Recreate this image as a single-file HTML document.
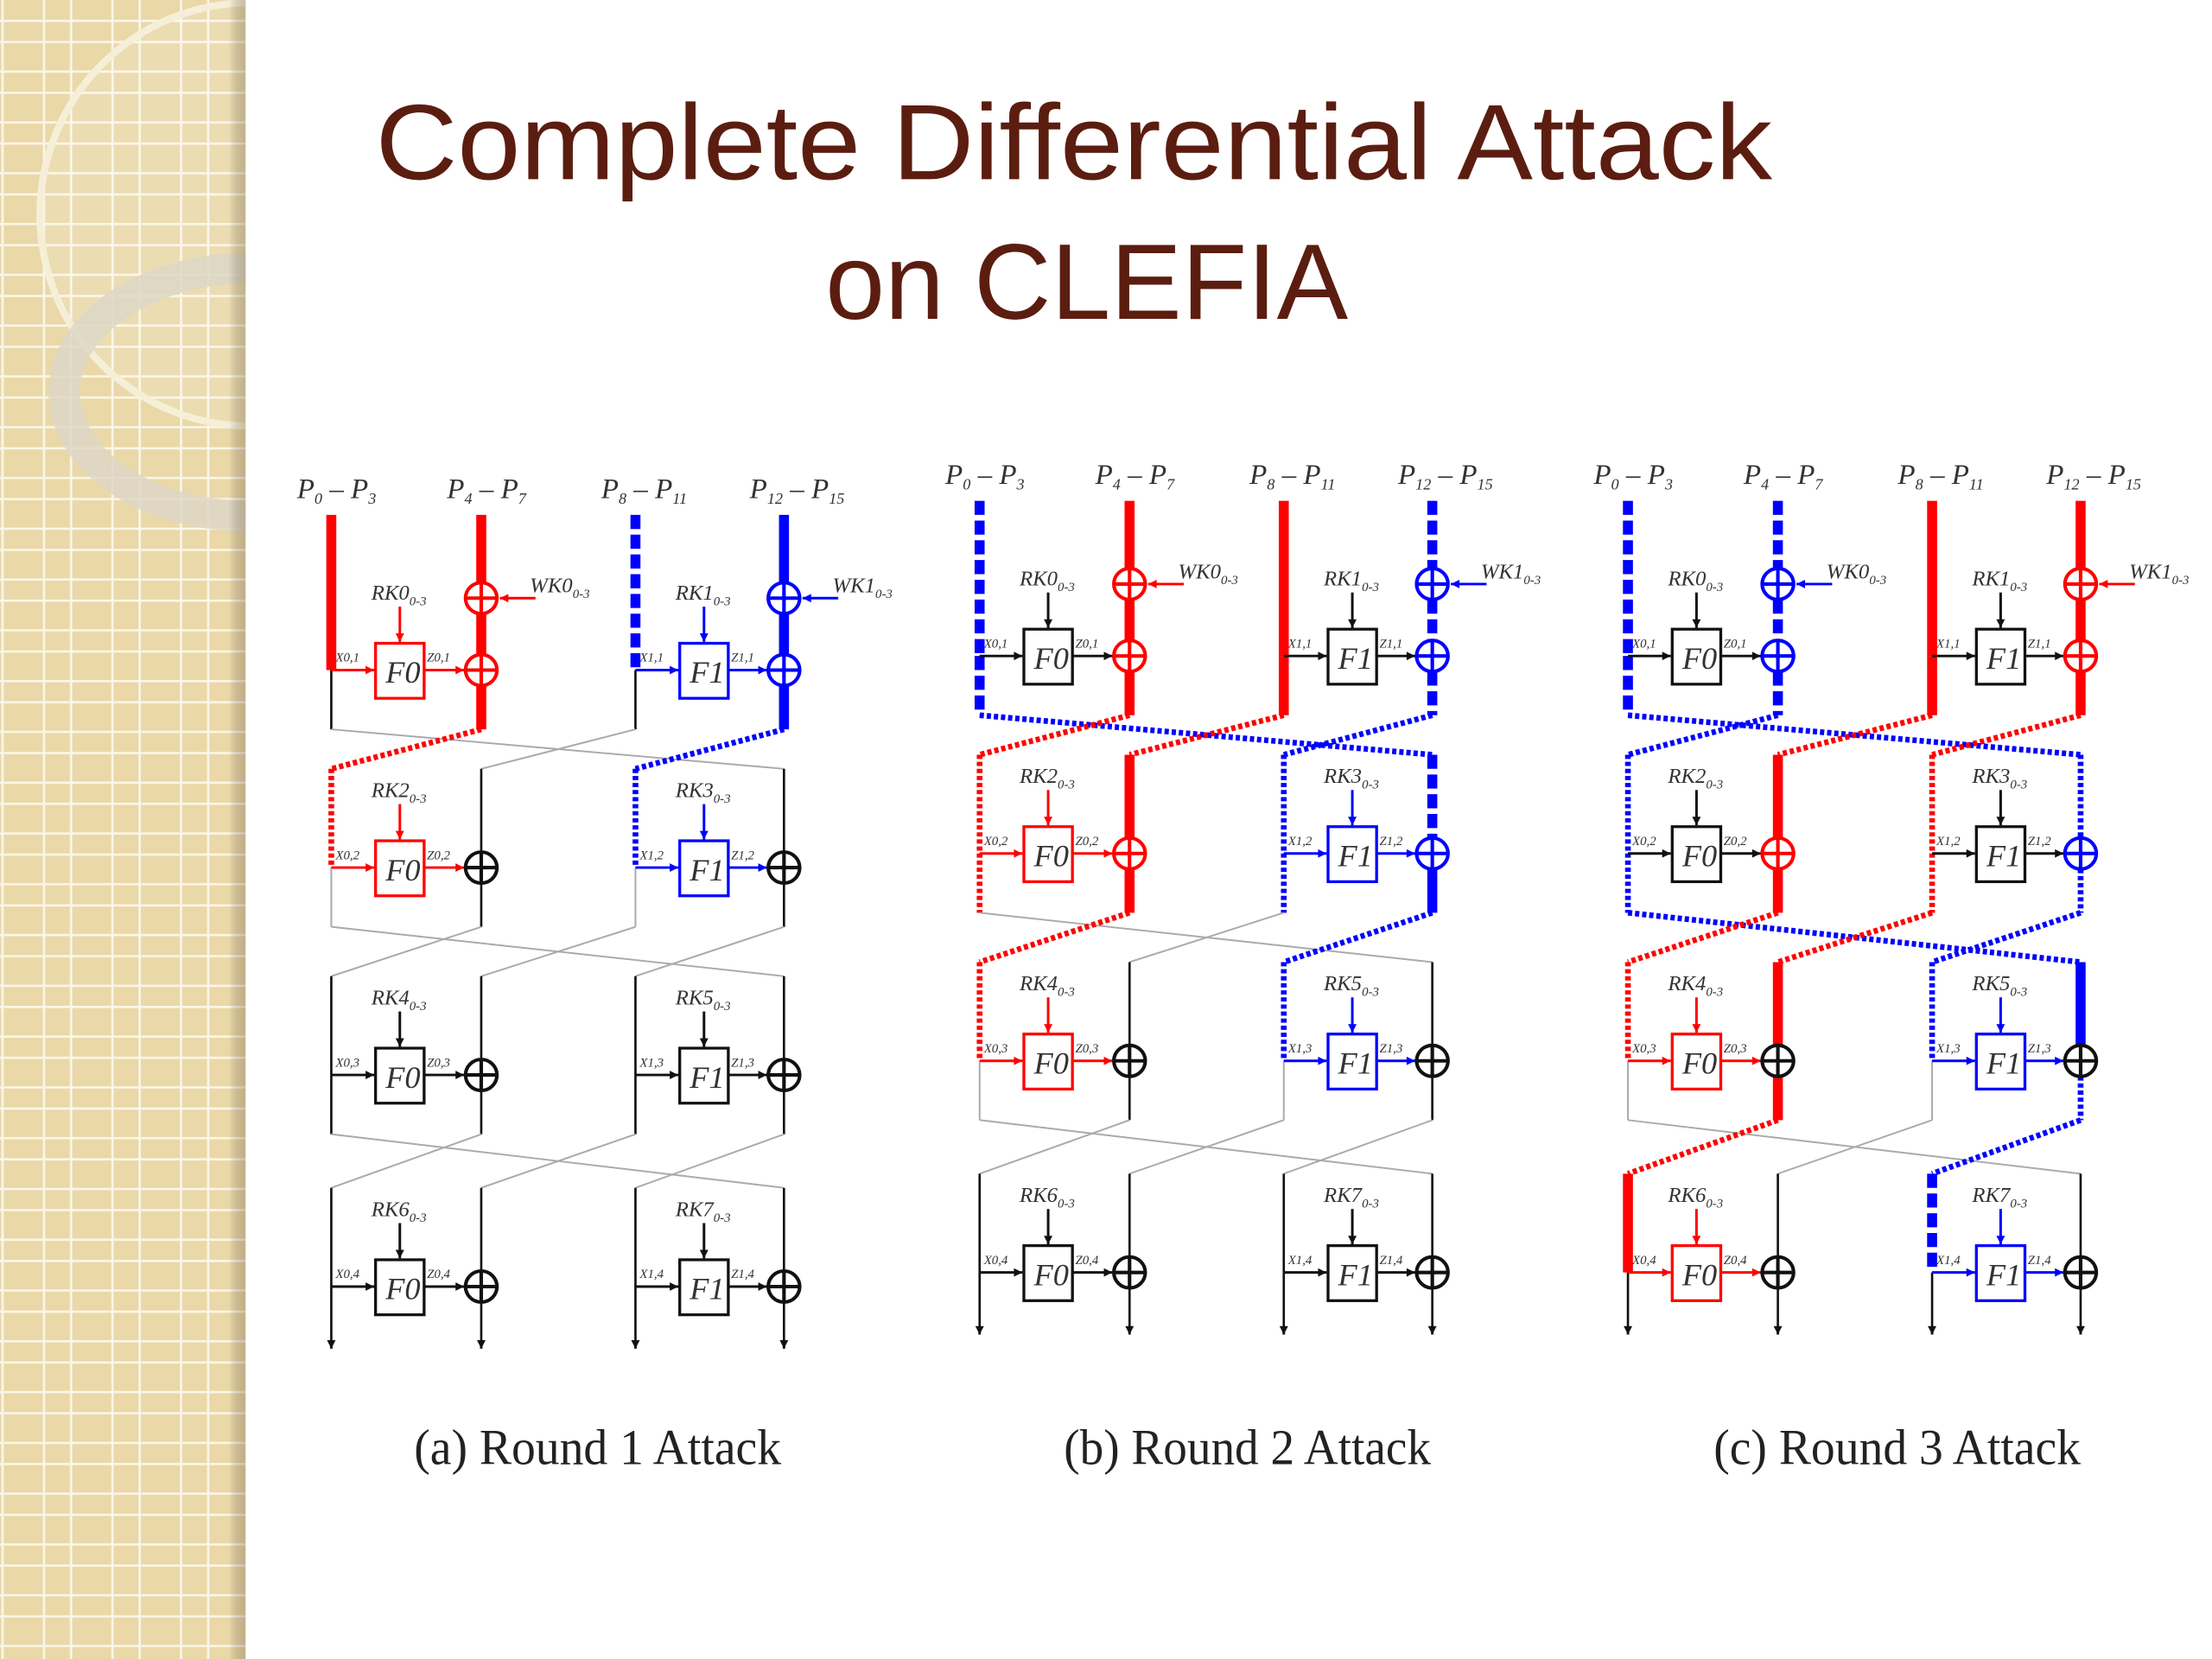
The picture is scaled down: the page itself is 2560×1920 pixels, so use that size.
<!DOCTYPE html>
<html><head><meta charset="utf-8"><style>
html,body{margin:0;padding:0;background:#fff;}
svg{display:block;}
</style></head><body>
<svg id="s" width="2560" height="1920" viewBox="0 0 1549 1176" preserveAspectRatio="none" xmlns="http://www.w3.org/2000/svg">
<defs>
<pattern id="grid" width="48" height="36" patternUnits="userSpaceOnUse">
<rect width="48" height="36" fill="#ead8a8"/>
<rect x="0" y="14" width="48" height="1.6" fill="#fbf6e8"/>
<rect x="0" y="29" width="48" height="1.6" fill="#fbf6e8"/>
<rect x="30" y="0" width="1.6" height="36" fill="#fbf6e8"/>
<rect x="1" y="0" width="1.6" height="36" fill="#fbf6e8"/>
</pattern>
<clipPath id="side"><rect x="0" y="0" width="172" height="1176"/></clipPath>
<linearGradient id="sh" x1="0" x2="1"><stop offset="0" stop-color="#000" stop-opacity="0"/><stop offset="1" stop-color="#7a6a44" stop-opacity="0.35"/></linearGradient>
</defs>
<rect x="0" y="0" width="172" height="1176" fill="url(#grid)"/>
<g clip-path="url(#side)">
<ellipse cx="175" cy="152" rx="147" ry="150" fill="#fff" fill-opacity="0.12" stroke="#f6efd8" stroke-width="5"/>
<ellipse cx="175" cy="278" rx="130" ry="88" fill="none" stroke="#ddd7c6" stroke-width="22" stroke-opacity="0.85"/>
</g>
<rect x="160" y="0" width="12" height="1176" fill="url(#sh)"/>
<text x="263" y="127" font-family="Liberation Sans, sans-serif" font-size="76" fill="#5b1d10" textLength="978" lengthAdjust="spacingAndGlyphs">Complete Differential Attack</text>
<text x="578" y="226" font-family="Liberation Sans, sans-serif" font-size="76" fill="#5b1d10" textLength="366" lengthAdjust="spacingAndGlyphs">on CLEFIA</text>
<g font-family="Liberation Serif, serif" font-size="36" fill="#222">
<text x="290" y="1038" textLength="257" lengthAdjust="spacingAndGlyphs">(a) Round 1 Attack</text>
<text x="745" y="1038" textLength="257" lengthAdjust="spacingAndGlyphs">(b) Round 2 Attack</text>
<text x="1200" y="1038" textLength="257" lengthAdjust="spacingAndGlyphs">(c) Round 3 Attack</text>
</g>
<g id="d"></g>
</svg>
<script>
var ST={R:['#f00',7,''],r:['#f00',4,'3 2'],Rd:['#f00',7,'10 4'],B:['#00f',7,''],b:['#00f',4,'3 2'],Bd:['#00f',7,'10 4'],k:['#111',1.6,''],g:['#aaa',1.2,'']};
var COL={R:'#f00',B:'#00f',k:'#111',g:'#999'};
var out='';
function ln(x1,y1,x2,y2,s){var t=ST[s];out+='<line x1="'+x1+'" y1="'+y1+'" x2="'+x2+'" y2="'+y2+'" stroke="'+t[0]+'" stroke-width="'+t[1]+'"'+(t[2]?' stroke-dasharray="'+t[2]+'"':'')+'/>';}
function arr(x1,y1,x2,y2,c){out+='<line x1="'+x1+'" y1="'+y1+'" x2="'+x2+'" y2="'+y2+'" stroke="'+c+'" stroke-width="1.8"/>';
 var dx=x2-x1,dy=y2-y1,L=Math.sqrt(dx*dx+dy*dy);dx/=L;dy/=L;var s=6,w=3;
 out+='<polygon points="'+x2+','+y2+' '+(x2-dx*s-dy*w)+','+(y2-dy*s+dx*w)+' '+(x2-dx*s+dy*w)+','+(y2-dy*s-dx*w)+'" fill="'+c+'"/>';}
function xor(x,y,c){out+='<circle cx="'+x+'" cy="'+y+'" r="11" fill="#fff" stroke="'+c+'" stroke-width="2.5"/><line x1="'+(x-11)+'" y1="'+y+'" x2="'+(x+11)+'" y2="'+y+'" stroke="'+c+'" stroke-width="2.5"/><line x1="'+x+'" y1="'+(y-11)+'" x2="'+x+'" y2="'+(y+11)+'" stroke="'+c+'" stroke-width="2.5"/>';}
function txt(x,y,s,sz,extra){out+='<text x="'+x+'" y="'+y+'" font-family="Liberation Serif, serif" font-style="italic" font-size="'+sz+'" fill="#333" '+(extra||'')+'>'+s+'</text>';}
var RK=['RK0','RK1','RK2','RK3','RK4','RK5','RK6','RK7'];
function diag(dx,dy,spec){
 var c=[232+dx,337+dx,445+dx,549+dx];var F=[475+dy,615+dy,762+dy,912+dy];
 var top=[365+dy,F[1]-70,F[2]-70,F[3]-70];var bot=[F[0]+42,F[1]+42,F[2]+42,F[3]+42];
 var lab=['P<tspan font-size="11" dy="4">0</tspan><tspan dy="-4"> – P</tspan><tspan font-size="11" dy="4">3</tspan>','P<tspan font-size="11" dy="4">4</tspan><tspan dy="-4"> – P</tspan><tspan font-size="11" dy="4">7</tspan>','P<tspan font-size="11" dy="4">8</tspan><tspan dy="-4"> – P</tspan><tspan font-size="11" dy="4">11</tspan>','P<tspan font-size="11" dy="4">12</tspan><tspan dy="-4"> – P</tspan><tspan font-size="11" dy="4">15</tspan>'];
 for(var i=0;i<4;i++)txt(c[i]-24,top[0]-12,lab[i],20);
 for(var r=0;r<4;r++){var p=spec[r];var y=F[r];
  for(var h=0;h<2;h++){var a=c[2*h],b=c[2*h+1],o=h*6;
   ln(a,top[r],a,y,p[o]);ln(a,y,a,bot[r],p[o+1]);
   ln(b,top[r],b,y-11,p[o+3]);ln(b,y+11,b,bot[r],p[o+5]);
   var fc=COL[p[o+2]],xc=COL[p[o+4]];
   if(r==0){xor(b,y-51,xc);arr(b+38,y-51,b+13,y-51,xc);txt(b+34,y-55,'WK'+h+'<tspan font-size="9" dy="4">0-3</tspan>',15);}
   arr(a,y,a+30,y,fc);
   out+='<rect x="'+(a+31)+'" y="'+(y-19)+'" width="34" height="39" fill="#fff" stroke="'+fc+'" stroke-width="2"/>';
   txt(a+38,y+9,'F'+h,22);
   arr(a+65,y,b-12,y,fc);
   xor(b,y,xc);
   arr(a+48,y-45,a+48,y-20,fc);
   txt(a+28,y-50,RK[r*2+h]+'<tspan font-size="9" dy="4">0-3</tspan>',15);
   txt(a+3,y-6,(h?'X1,':'X0,')+(r+1),9);txt(a+67,y-6,(h?'Z1,':'Z0,')+(r+1),9);
   if(r==3){arr(a,bot[r]-4,a,bot[r]+2,'#111');arr(b,bot[r]-4,b,bot[r]+2,'#111');}
  }
  if(r<3){var cr=p[12],y1=bot[r],y2=top[r+1];
   ln(c[0],y1,c[3],y2,cr[3]);ln(c[2],y1,c[1],y2,cr[1]);ln(c[1],y1,c[0],y2,cr[0]);ln(c[3],y1,c[2],y2,cr[2]);}
 }
}
var K=['k','k','k','k','k','k','k','k','k','k','k','k',['g','g','g','g']];
diag(0,0,[
 ['R','k','R','R','R','R','Bd','k','B','B','B','B',['r','g','b','g']],
 ['r','g','R','k','k','k','b','g','B','k','k','k',['g','g','g','g']],K,K]);
diag(454,-10,[
 ['Bd','Bd','k','R','R','R','R','R','k','Bd','B','Bd',['r','r','b','b']],
 ['r','r','R','R','R','R','b','b','B','Bd','B','B',['r','g','b','g']],
 ['r','g','R','k','k','k','b','g','B','k','k','k',['g','g','g','g']],K]);
diag(908,-10,[
 ['Bd','Bd','k','Bd','B','Bd','R','R','k','R','R','R',['b','r','r','b']],
 ['b','b','k','R','R','R','r','r','k','b','B','b',['r','r','b','b']],
 ['r','g','R','R','k','R','b','g','B','B','k','b',['r','g','b','g']],
 ['R','k','R','k','k','k','Bd','k','B','k','k','k',['g','g','g','g']]]);
document.getElementById('d').innerHTML=out;
</script>
</body></html>
